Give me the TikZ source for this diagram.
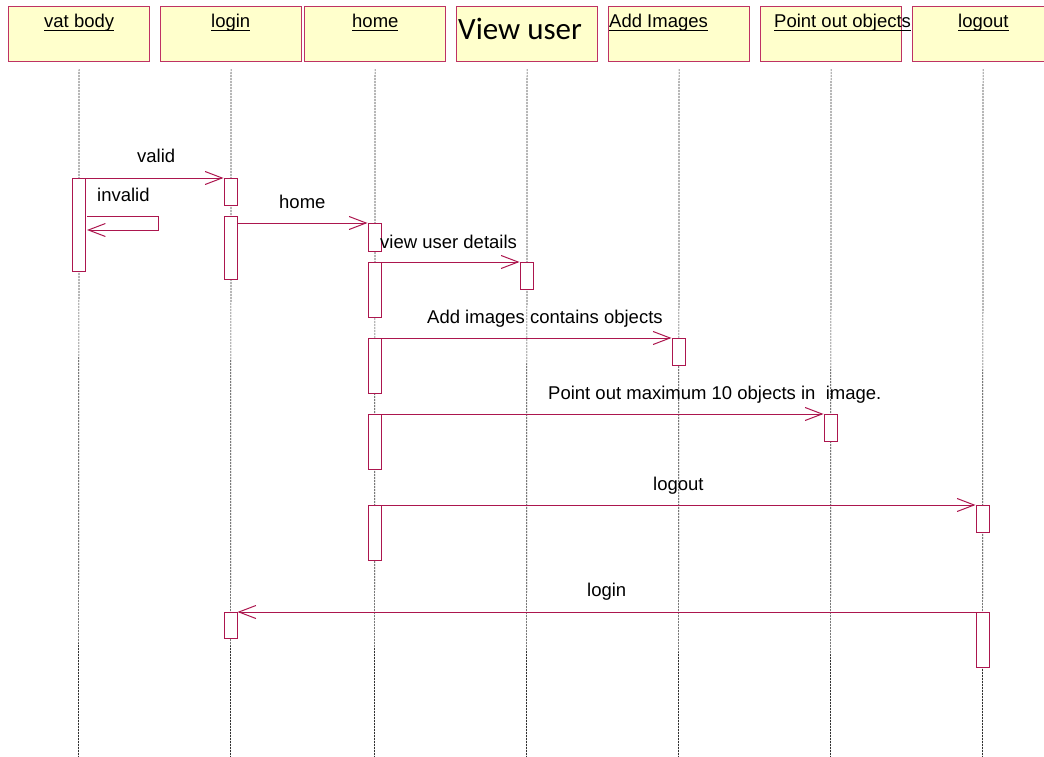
\documentclass[tikz,border=0pt]{standalone}
\usepackage{fontspec}
\setmainfont{Liberation Sans}
\newfontfamily\calfont{Carlito}
\usetikzlibrary{arrows.meta}
\definecolor{umlred}{RGB}{172,22,78}
\definecolor{headline}{RGB}{190,50,100}
\definecolor{headfill}{RGB}{255,255,204}
\definecolor{lifegray}{RGB}{50,50,50}
% underlined header title
\newcommand\ulin[1]{\setbox0\hbox{#1}\rlap{\rule[-3.2pt]{\wd0}{1.1pt}}\box0}
\begin{document}
\begin{tikzpicture}[x=1pt,y=-1pt,
  head/.style={draw=headline, fill=headfill, line width=1.2pt, minimum width=141pt,
    minimum height=55pt, inner sep=0pt, anchor=north west},
  act/.style={draw=umlred, fill=white, line width=1pt, minimum width=13pt,
    inner sep=0pt, anchor=north},
  life/.style={draw=lifegray, line width=0.7pt, dash pattern=on 2pt off 1pt},
  msg/.style={draw=umlred, line width=1pt,
    -{Straight Barb[length=17pt,width=13pt,line width=1pt]}},
  lbl/.style={font=\fontsize{18.5}{22}\selectfont, inner sep=0pt, anchor=base west},
]
\clip (0,0) rectangle (1044,757);
\useasboundingbox (0,0) rectangle (1044,757);

% object heads
\node[head] (h1) at (8,6) {};
\node[head] (h2) at (160,6) {};
\node[head] (h3) at (304,6) {};
\node[head] (h4) at (456,6) {};
\node[head] (h5) at (608,6) {};
\node[head] (h6) at (760,6) {};
\node[head] (h7) at (912,6) {};

\node[lbl] (t1) at (44,28) {\ulin{vat body}};
\node[lbl] (t2) at (211,28) {\ulin{login}};
\node[lbl] (t3) at (352,28) {\ulin{home}};
\node[inner sep=0pt, anchor=base west, font=\calfont\fontsize{31}{36}\selectfont] (t4) at (458,40) {View user};
\node[lbl] (t5) at (609,28) {\ulin{Add Images}};
\node[lbl] (t6) at (774,28) {\ulin{Point out objects}};
\node[lbl] (t7) at (958,28) {\ulin{logout}};

% lifelines
\foreach \i/\x in {1/78.5,2/230.5,3/374.5,4/526.5,5/678.5,6/830.5,7/982.5}{
  \coordinate (e\i) at (\x,757);
  \draw[life] ([yshift=-7pt]h\i.south) -- (e\i);
}

% activation bars
\node[act, minimum height=93pt] (vb1) at (78.5,178) {};
\node[act, minimum height=27pt] (lb1) at (230.5,178) {};
\node[act, minimum height=63pt] (lb2) at (230.5,216) {};
\node[act, minimum height=26pt] (lb3) at (230.5,612) {};
\node[act, minimum height=28pt] (hb1) at (374.5,223) {};
\node[act, minimum height=55pt] (hb2) at (374.5,262) {};
\node[act, minimum height=55pt] (hb3) at (374.5,338) {};
\node[act, minimum height=55pt] (hb4) at (374.5,414) {};
\node[act, minimum height=55pt] (hb5) at (374.5,505) {};
\node[act, minimum height=27pt] (vu1) at (526.5,262) {};
\node[act, minimum height=27pt] (ai1) at (678.5,338) {};
\node[act, minimum height=27pt] (po1) at (830.5,414) {};
\node[act, minimum height=27pt] (lo1) at (982.5,505) {};
\node[act, minimum height=55pt] (lo2) at (982.5,612) {};

% messages
\draw[msg] (vb1.north east) -- (lb1.north west);
\coordinate (sA) at (158,216);
\coordinate (sB) at (158,230);
\draw[msg] ([xshift=1.5pt]vb1.east |- sA) -- (sA) -- (sB) -- ([xshift=1.5pt]vb1.east |- sB);
\draw[msg] (lb2.east |- hb1.north) -- (hb1.north west);
\draw[msg] (hb2.north east) -- (vu1.north west);
\draw[msg] (hb3.north east) -- (ai1.north west);
\draw[msg] (hb4.north east) -- (po1.north west);
\draw[msg] (hb5.north east) -- (lo1.north west);
\draw[msg] (lo2.north west) -- (lb3.north east);

% message labels
\node[lbl] (m1) at (137,163) {valid};
\node[lbl] (m2) at (97,201) {invalid};
\node[lbl] (m3) at (279,208) {home};
\node[lbl] (m4) at (380,248) {view user details};
\node[lbl] (m5) at (427,323) {Add images contains objects};
\node[lbl] (m6) at (548,399) {Point out maximum 10 objects in \ image.};
\node[lbl] (m7) at (653,490) {logout};
\node[lbl] (m8) at (587,596) {login};
\end{tikzpicture}
\end{document}
